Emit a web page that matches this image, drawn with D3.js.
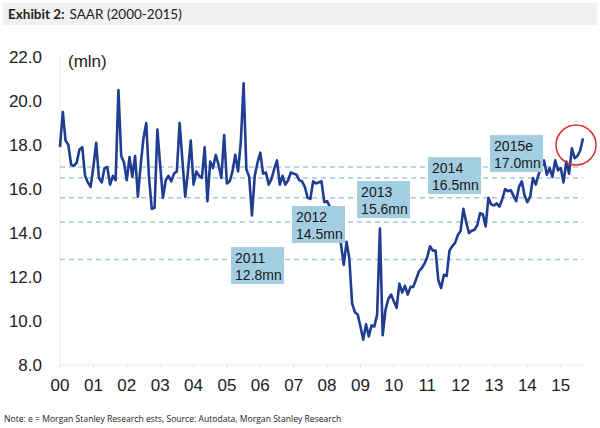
<!DOCTYPE html>
<html><head><meta charset="utf-8">
<script src="https://cdn.jsdelivr.net/npm/d3@7"></script>
<style>
html,body{margin:0;padding:0;background:#fff;}
svg{display:block;}
</style></head>
<body><svg id="chart" width="600" height="428"></svg>
<script>
// ---- data ----
const yearLabels = ["00","01","02","03","04","05","06","07","08","09","10","11","12","13","14","15"];
const yTicks = [8,10,12,14,16,18,20,22];
// monthly SAAR (mln), Jan 2000 - Sep 2015
const saar2000 = [17.9,19.5,18.2,18.0,17.1,17.05,17.2,17.8,17.9,16.6,16.3,16.1];
const saar2001 = [17.0,18.1,16.5,16.3,16.95,17.0,16.2,16.6,16.4,20.5,17.5,17.2];
const saar2002 = [16.4,17.45,16.55,17.5,15.65,17.1,18.3,19.0,16.5,15.1,15.15,18.7];
const saar2003 = [17.1,15.6,16.4,16.6,16.35,16.7,16.8,19.0,17.3,15.65,16.8,18.2];
const saar2004 = [16.2,16.8,16.6,16.5,17.9,15.45,17.25,16.95,17.55,17.1,16.5,18.45];
const saar2005 = [16.25,16.35,16.8,17.55,16.8,18.15,20.8,16.9,16.55,14.8,16.6,17.2];
const saar2006 = [17.65,16.7,16.75,16.2,16.45,16.9,17.3,16.2,16.6,16.2,16.4,16.75];
const saar2007 = [16.7,16.65,16.4,16.35,16.1,15.6,15.55,16.35,16.25,16.3,16.35,15.4];
const saar2008 = [15.45,15.2,14.5,14.3,14.2,13.5,12.55,13.6,12.85,10.8,10.4,10.3];
const saar2009 = [9.75,9.15,9.85,9.3,9.8,9.75,10.3,14.2,9.35,10.5,11.0,11.2];
const saar2010 = [10.9,10.6,11.7,11.3,11.6,11.2,11.55,11.55,11.9,12.25,12.4,12.6];
const saar2011 = [12.9,13.4,13.2,13.2,11.85,11.5,12.1,12.05,13.2,13.4,13.55,13.9];
const saar2012 = [14.1,15.1,14.5,14.0,14.1,14.15,14.35,14.9,14.85,14.3,15.6,15.3];
const saar2013 = [15.25,15.35,15.2,15.55,16.0,15.9,15.95,15.7,15.45,16.1,16.35,15.7];
const saar2014 = [15.4,15.65,16.5,16.2,16.65,16.95,17.3,16.65,16.95,16.55,17.3,16.85];
const saar2015 = [16.95,16.3,17.25,16.7,17.85,17.4,17.5,17.75,18.3];
const annotYears = ["2011","2012","2013","2014","2015e"];
const annotValues = [12.8,14.5,15.6,16.5,17.0];

// ---- build ----
const saar = [].concat(saar2000,saar2001,saar2002,saar2003,saar2004,saar2005,saar2006,saar2007,
  saar2008,saar2009,saar2010,saar2011,saar2012,saar2013,saar2014,saar2015);
const svg = d3.select("#chart");
const x = d3.scaleLinear().domain([0, 188]).range([60, 583]);
const y = d3.scaleLinear().domain([8, 22]).range([365, 57]);
const FONT = "'Liberation Sans', Arial, sans-serif";

// title bar
svg.append("rect").attr("x",3).attr("y",3).attr("width",594).attr("height",22).attr("fill","#f1f1f1");
const t = svg.append("text").attr("x",8).attr("y",19).attr("font-family","Lato, 'Open Sans', sans-serif")
  .attr("font-size",13.5).attr("fill","#222");
t.append("tspan").attr("font-weight","bold").text("Exhibit 2:");
t.append("tspan").attr("dx",5).text("SAAR (2000-2015)");

// axes
svg.append("line").attr("x1",x(0)).attr("x2",x(0)).attr("y1",y(22)).attr("y2",y(8))
  .attr("stroke","#ececec").attr("stroke-width",1);
svg.append("line").attr("x1",x(0)).attr("x2",583).attr("y1",y(8)).attr("y2",y(8))
  .attr("stroke","#ececec").attr("stroke-width",1.2);
yearLabels.forEach((lab,i)=>{
  svg.append("line").attr("x1",x(i*12)).attr("x2",x(i*12)).attr("y1",y(8)).attr("y2",y(8)+3)
    .attr("stroke","#e3e3e3");
  svg.append("text").attr("x",x(i*12)).attr("y",391).attr("text-anchor","middle")
    .attr("font-family",FONT).attr("font-size",17).attr("fill","#222").text(lab);
});
yTicks.forEach(v=>{
  svg.append("text").attr("x",42).attr("y",y(v)).attr("dy","0.36em").attr("text-anchor","end")
    .attr("font-family",FONT).attr("font-size",17).attr("fill","#222").text(v.toFixed(1));
});
svg.append("text").attr("x",68).attr("y",67).attr("font-family",FONT)
  .attr("font-size",17).attr("fill","#222").text("(mln)");

// dashed reference lines
annotValues.forEach(v=>{
  svg.append("line").attr("x1",x(0)).attr("x2",583).attr("y1",y(v)).attr("y2",y(v))
    .attr("stroke","#a9c7d6").attr("stroke-width",1.5).attr("stroke-dasharray","5,4");
});

// line
const line = d3.line().x((d,i)=>x(i)).y(d=>y(d));
svg.append("path").datum(saar).attr("d",line).attr("fill","none")
  .attr("stroke","#1f3d91").attr("stroke-width",2.6).attr("stroke-linejoin","round");

// annotation boxes (anchor: left month, top value)
const boxAnchors = [[61.5,13.36],[83.4,15.23],[106.8,16.36],[132.3,17.45],[154.6,18.45]];
annotYears.forEach((yr,i)=>{
  const bx = x(boxAnchors[i][0]), by = y(boxAnchors[i][1]);
  svg.append("rect").attr("x",bx).attr("y",by).attr("width",53).attr("height",37).attr("fill","#a3cde0");
  const tt = svg.append("text").attr("font-family",FONT).attr("font-size",14).attr("fill","#1a1a1a");
  tt.append("tspan").attr("x",bx+4).attr("y",by+16).text(yr);
  tt.append("tspan").attr("x",bx+4).attr("y",by+33).text(annotValues[i].toFixed(1)+"mn");
});

// red circle around latest data
svg.append("circle").attr("cx",x(185.5)).attr("cy",y(18)).attr("r",20)
  .attr("fill","none").attr("stroke","#d92b2f").attr("stroke-width",1.5);

// footnote
svg.append("text").attr("x",4).attr("y",422).attr("font-family","'Open Sans', sans-serif")
  .attr("font-size",8.6).attr("fill","#222")
  .text("Note: e = Morgan Stanley Research ests, Source: Autodata, Morgan Stanley Research");
</script></body></html>
